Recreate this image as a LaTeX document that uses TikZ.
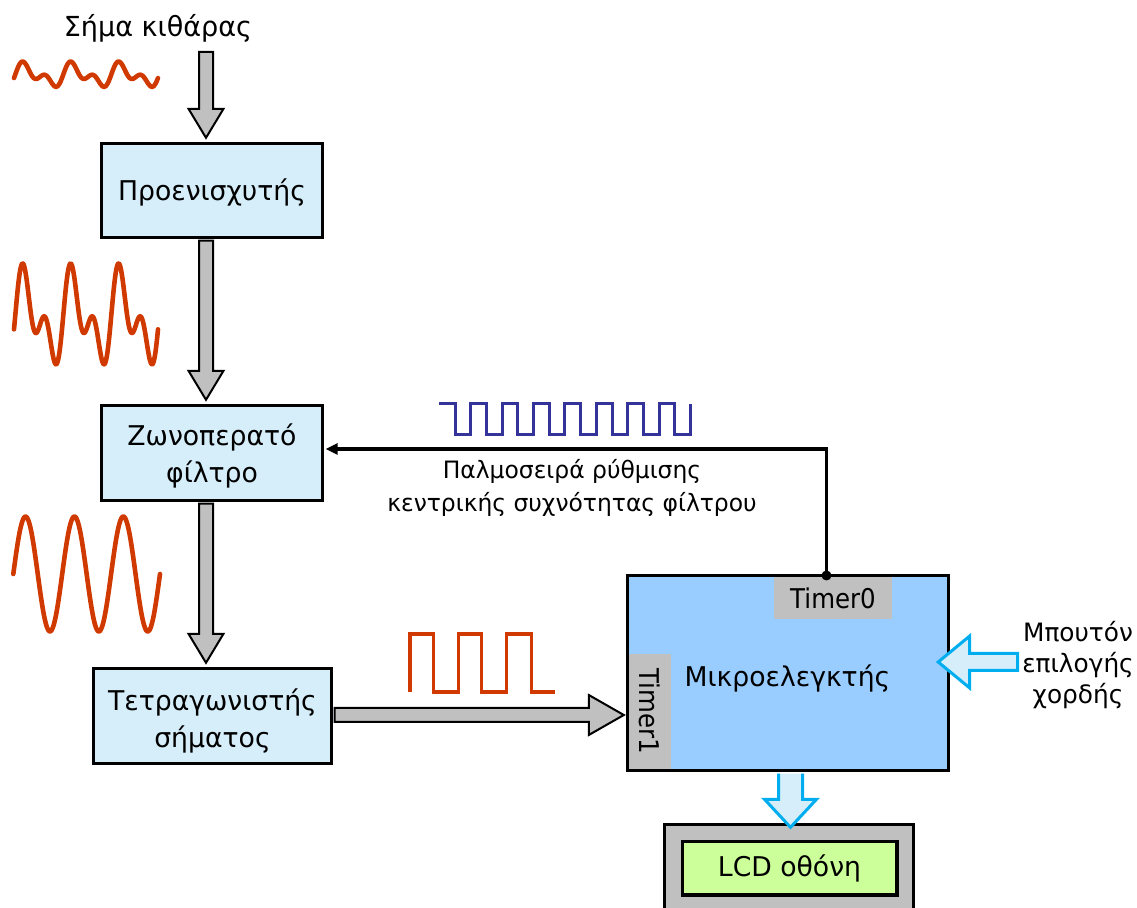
\documentclass[tikz,border=0pt]{standalone}
\usepackage{fontspec}
\setmainfont{DejaVu Sans}[FakeStretch=0.98]
\newfontfamily\timerfont{DejaVu Sans}[FakeStretch=0.9]
\usetikzlibrary{arrows.meta,calc}
\definecolor{boxblue}{RGB}{213,238,250}
\definecolor{mcblue}{RGB}{153,204,255}
\definecolor{tgray}{RGB}{192,192,192}
\definecolor{lcdgreen}{RGB}{204,255,153}
\definecolor{sigred}{RGB}{208,58,0}
\definecolor{pulseblue}{RGB}{51,51,153}
\definecolor{cyanedge}{RGB}{0,174,239}
\newcommand\boxfnt{\fontsize{13.6}{18.5}\selectfont}
\tikzset{
  blk/.style={draw=black, line width=1.7pt, fill=boxblue, inner sep=0pt},
  boxtxt/.style={align=center, font=\boxfnt, inner sep=0pt},
  fatg/.style={draw=black, line width=1pt, fill=tgray, line join=miter},
  fatbfill/.style={fill=boxblue},
  fatbline/.style={draw=cyanedge, line width=1.5pt, line join=miter},
  wave/.style={draw=sigred, line width=2.3pt, line cap=round, line join=round},
  pulser/.style={draw=sigred, line width=1.6pt, line join=miter},
  pulseb/.style={draw=pulseblue, line width=1.5pt, line join=miter},
  timerbox/.style={fill=tgray, inner sep=0pt, font=\timerfont\fontsize{13.6}{16}\selectfont},
  lbl/.style={align=center, inner sep=0pt}
}
\begin{document}
\begin{tikzpicture}[x=0.5pt, y=-0.5pt]
\useasboundingbox (0,0) rectangle (1137,908);
\clip (0,0) rectangle (1137,908);

% ---- blocks ----
\node[blk, minimum width=110.5pt, minimum height=47pt] (pre) at (212,190.5) {};
\node[boxtxt] (prelbl) at ($(pre.center)+(0,1.5)$) {Προενισχυτής};
\node[blk, minimum width=110.5pt, minimum height=47.5pt] (bp) at (212,453) {};
\node[boxtxt] (bplbl) at ($(bp.center)+(0,3)$) {Ζωνοπερατό\\φίλτρο};
\node[blk, minimum width=119pt, minimum height=47.5pt] (sq) at (212.5,716) {};
\node[boxtxt] (sqlbl) at ($(sq.center)+(0,5)$) {Τετραγωνιστής\\σήματος};

\node[draw=black, line width=1.7pt, fill=mcblue, minimum width=160.5pt, minimum height=97.5pt, inner sep=0pt] (mc) at (788,673) {};
\node[timerbox, minimum width=59pt, minimum height=21pt] (t0) at (833,598) {Timer0};
\node[timerbox, rotate=-90, minimum width=57.5pt, minimum height=21pt] (t1) at (650,711.5) {Timer1};
\node[boxtxt] (mclabel) at (787.5,678) {Μικροελεγκτής};

\node[draw=black, line width=1.7pt, fill=tgray, minimum width=124.5pt, minimum height=55.25pt, inner sep=0pt] (lcd) at (789,879.75) {};
\node[draw=black, line width=1.7pt, fill=lcdgreen, minimum width=107.3pt, minimum height=26.85pt, inner sep=0pt, font=\boxfnt] (lcdin) at (789.5,868.3) {LCD οθόνη};

% ---- texts ----
\node[lbl, font=\fontsize{13.8}{17}\selectfont] (title) at (158,28) {Σήμα κιθάρας};
\node[lbl, font=\fontsize{11.95}{16.5}\selectfont] (fblabel) at (572,488) {Παλμοσειρά ρύθμισης\\κεντρικής συχνότητας φίλτρου};
\node[lbl, font=\fontsize{12.65}{15.5}\selectfont] (btntext) at (1078,665) {Μπουτόν\\επιλογής\\χορδής};

% ---- gray fat arrows (vertical) ----
\coordinate (a1s) at (206,52);
\coordinate (a1e) at ($(a1s |- pre.north)+(0,-4)$);
\coordinate (a2s) at ($(a1s |- pre.south)+(0,1.5)$);
\coordinate (a2e) at ($(a1s |- bp.north)+(0,-4)$);
\coordinate (a3s) at ($(a1s |- bp.south)+(0,1.5)$);
\coordinate (a3e) at ($(a1s |- sq.north)+(0,-4)$);
\foreach \s/\e in {a1s/a1e, a2s/a2e, a3s/a3e}{
  \draw[fatg] ($(\s)+(-7,0)$) -- ($(\e)+(-7,-29)$) -- ($(\e)+(-17.5,-29)$) -- (\e)
     -- ($(\e)+(17.5,-29)$) -- ($(\e)+(7,-29)$) -- ($(\s)+(7,0)$) -- cycle;
}

% ---- gray fat arrow (horizontal) ----
\coordinate (h1s) at ($(sq.east)+(1.5,-1)$);
\coordinate (h1e) at ($(h1s -| mc.west)+(-2,0)$);
\draw[fatg] ($(h1s)+(0,-7)$) -- ($(h1e)+(-35,-7)$) -- ($(h1e)+(-35,-20)$) -- (h1e)
   -- ($(h1e)+(-35,20)$) -- ($(h1e)+(-35,7)$) -- ($(h1s)+(0,7)$) -- cycle;

% ---- feedback line ----
\node[circle, fill=black, inner sep=0pt, minimum size=5pt] (dot) at (826.5,575.5) {};
\draw[line width=1.7pt, -{Triangle[length=6pt,width=5.5pt]}] (dot.center) |- ($(bp.east)+(1.5,-4)$);

% ---- blue arrow down to LCD ----
\coordinate (b1s) at ($(mc.south)+(2.5,1.5)$);
\coordinate (b1e) at ($(b1s |- lcd.north)+(0,4.5)$);
\fill[fatbfill] ($(b1s)+(-12,0)$) -- ($(b1e)+(-12,-28)$) -- ($(b1e)+(-26,-28)$) -- (b1e)
   -- ($(b1e)+(26,-28)$) -- ($(b1e)+(12,-28)$) -- ($(b1s)+(12,0)$) -- cycle;
\draw[fatbline] ($(b1s)+(-12,0)$) -- ($(b1e)+(-12,-28)$) -- ($(b1e)+(-26,-28)$) -- (b1e)
   -- ($(b1e)+(26,-28)$) -- ($(b1e)+(12,-28)$) -- ($(b1s)+(12,0)$);

% ---- blue arrow from button ----
\coordinate (btn) at (1017.5,662);
\coordinate (b2e) at ($(btn -| mc.east)+(-12,0)$);
\draw[fatbline, fill=boxblue] (btn) -- ($(btn)+(0,-8.5)$) -- ($(b2e)+(31.5,-8.5)$) -- ($(b2e)+(31.5,-26)$) -- (b2e)
   -- ($(b2e)+(31.5,26)$) -- ($(b2e)+(31.5,8.5)$) -- ($(btn)+(0,8.5)$) -- cycle;

% ---- waveforms ----
\begin{scope}[shift={(0,-4.3)}, yscale=0.25]
\draw[wave] plot[domain=14:158, samples=240, smooth]
  (\x,{318.24-0.594*cos(7.5*(\x-14))-31.262*sin(7.5*(\x-14))+11.654*cos(15*(\x-14))-24.453*sin(15*(\x-14))});
\end{scope}
\draw[wave] plot[domain=14:158, samples=240, smooth]
  (\x,{318.24-0.594*cos(7.5*(\x-14))-31.262*sin(7.5*(\x-14))+11.654*cos(15*(\x-14))-24.453*sin(15*(\x-14))});
\draw[wave] plot[domain=13.3:160, samples=160, smooth] (\x,{574-57.5*sin(7.362*(\x-13.3))});

% red square pulses
\draw[pulser] (410,692) -- (410,634) -- (433.3,634) -- (433.3,692) -- (458.3,692) -- (458.3,634)
  -- (481.7,634) -- (481.7,692) -- (506.7,692) -- (506.7,634) -- (531.7,634) -- (531.7,692) -- (555,692);

% blue pulse train
\draw[pulseb] (439.3,404) \foreach \k in {0,...,7} {
  -- ({455+2*\k*15.7},404) -- ({455+2*\k*15.7},435) -- ({470.7+2*\k*15.7},435) -- ({470.7+2*\k*15.7},404)};
\end{tikzpicture}
\end{document}
